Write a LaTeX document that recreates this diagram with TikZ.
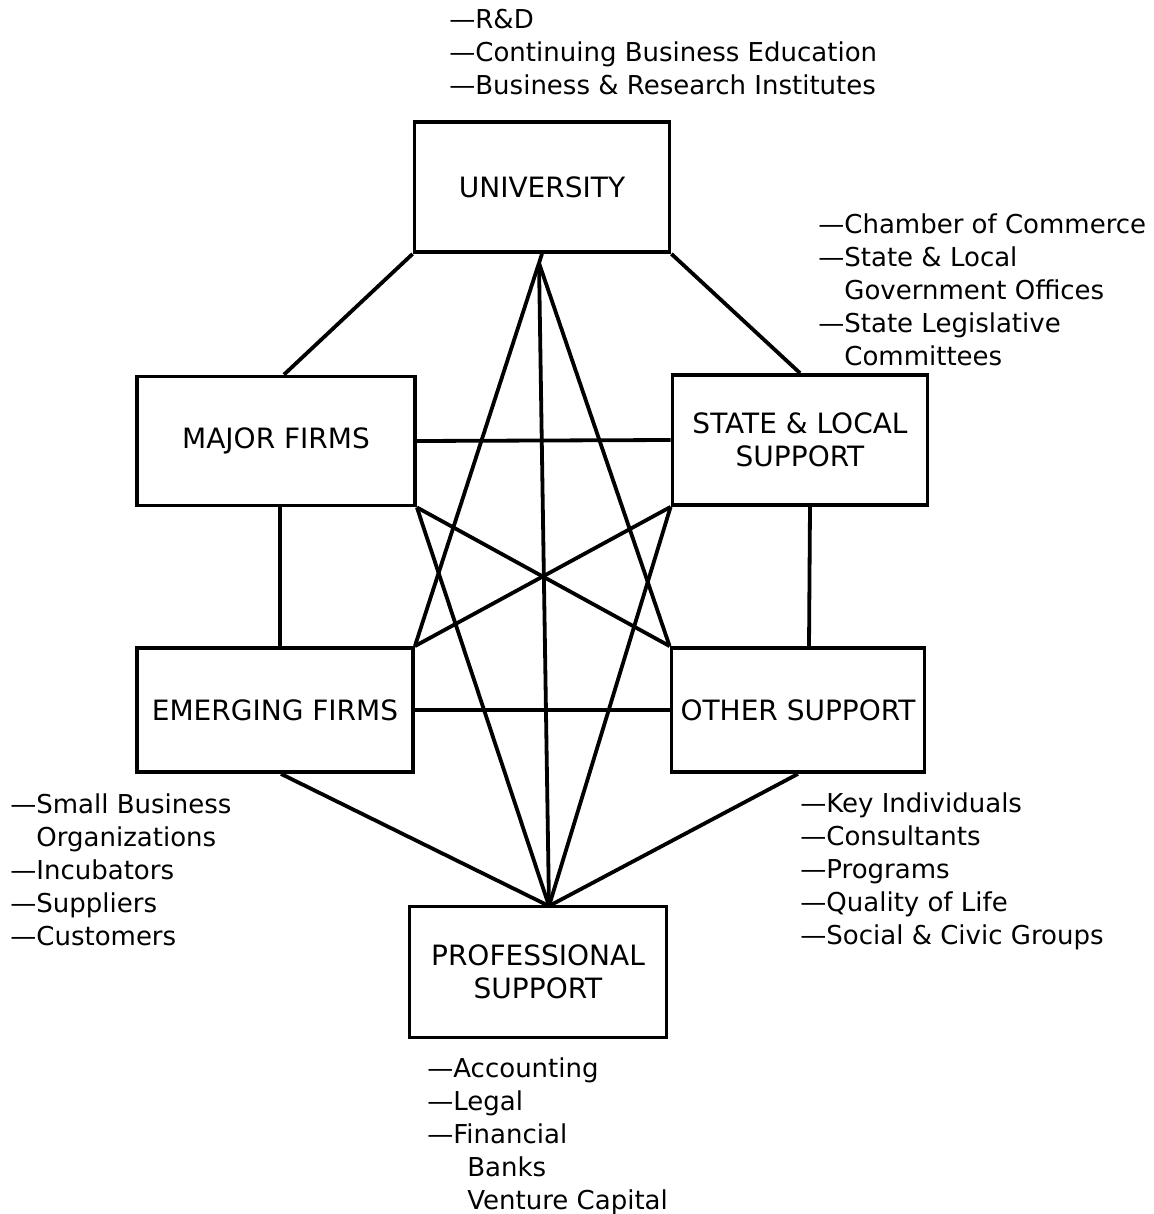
\documentclass[tikz,border=0pt]{standalone}
\usepackage{fontspec}
\setmainfont{DejaVu Sans}
\usetikzlibrary{positioning}
\tikzset{
  unit/.style={draw,line width=1.9pt,align=center,inner sep=2pt,
    font=\fontsize{14}{16.5}\selectfont},
  link/.style={line width=1.9pt},
  items/.style={anchor=north west,align=left,inner sep=0pt,
    font=\fontsize{13}{16.5}\selectfont}
}
\newcommand{\Unit}[5]% pos, name, width, height, text
{\node[unit,minimum width=#3,minimum height=#4] (#2) at (#1) {#5};}
\newcommand{\Link}[2]%
{\draw[link] (#1) -- (#2);}

\begin{document}
\begin{tikzpicture}[x=0.5pt,y=-0.5pt]
  \useasboundingbox (0,0) rectangle (1154,1214);
  \Unit{542,187}{univ}{127.5pt}{65pt}{UNIVERSITY}
  \Unit{276,441}{major}{139pt}{64.5pt}{MAJOR FIRMS}
  \Unit{800,440}{state}{127.5pt}{65pt}{STATE \& LOCAL\\SUPPORT}
  \Unit{275,710}{emerg}{138pt}{62pt}{EMERGING FIRMS}
  \Unit{798,710}{other}{126.5pt}{62pt}{OTHER SUPPORT}
  \Unit{538,972}{prof}{128.5pt}{65.5pt}{PROFESSIONAL\\SUPPORT}
  \coordinate (utip) at (539,263);
  \coordinate (ptip) at (549,906);
  % outer ring
  \Link{univ.south west}{[xshift=4pt]major.north}
  \Link{univ.south east}{state.north}
  \Link{major.east}{state.west}
  \Link{[xshift=2pt]major.south}{[xshift=2.5pt]emerg.north}
  \Link{[xshift=5pt]state.south}{[xshift=5.5pt]other.north}
  \Link{emerg.east}{other.west}
  \Link{[xshift=3pt]emerg.south}{ptip}
  \Link{other.south}{ptip}
  % cross links
  \Link{major.south east}{other.north west}
  \Link{state.south west}{emerg.north east}
  \Link{univ.south}{utip}
  \Link{utip}{emerg.north east}
  \Link{utip}{other.north west}
  \Link{utip}{ptip}
  \Link{major.south east}{ptip}
  \Link{state.south west}{ptip}
  % item lists
  \node[items] (uitems) at (449,9) {—R\&D\\—Continuing Business Education\\—Business \& Research Institutes};
  \node[items] (sitems) at (818,213) {—Chamber of Commerce\\—State \& Local\\\phantom{—}Government Offices\\—State Legislative\\\phantom{—}Committees};
  \node[items] (eitems) at (10,793) {—Small Business\\\phantom{—}Organizations\\—Incubators\\—Suppliers\\—Customers};
  \node[items] (oitems) at (800,792) {—Key Individuals\\—Consultants\\—Programs\\—Quality of Life\\—Social \& Civic Groups};
  \node[items] (pitems) at (427,1057) {—Accounting\\—Legal\\—Financial\\\phantom{—}\hspace{7pt}Banks\\\phantom{—}\hspace{7pt}Venture Capital};
\end{tikzpicture}
\end{document}
